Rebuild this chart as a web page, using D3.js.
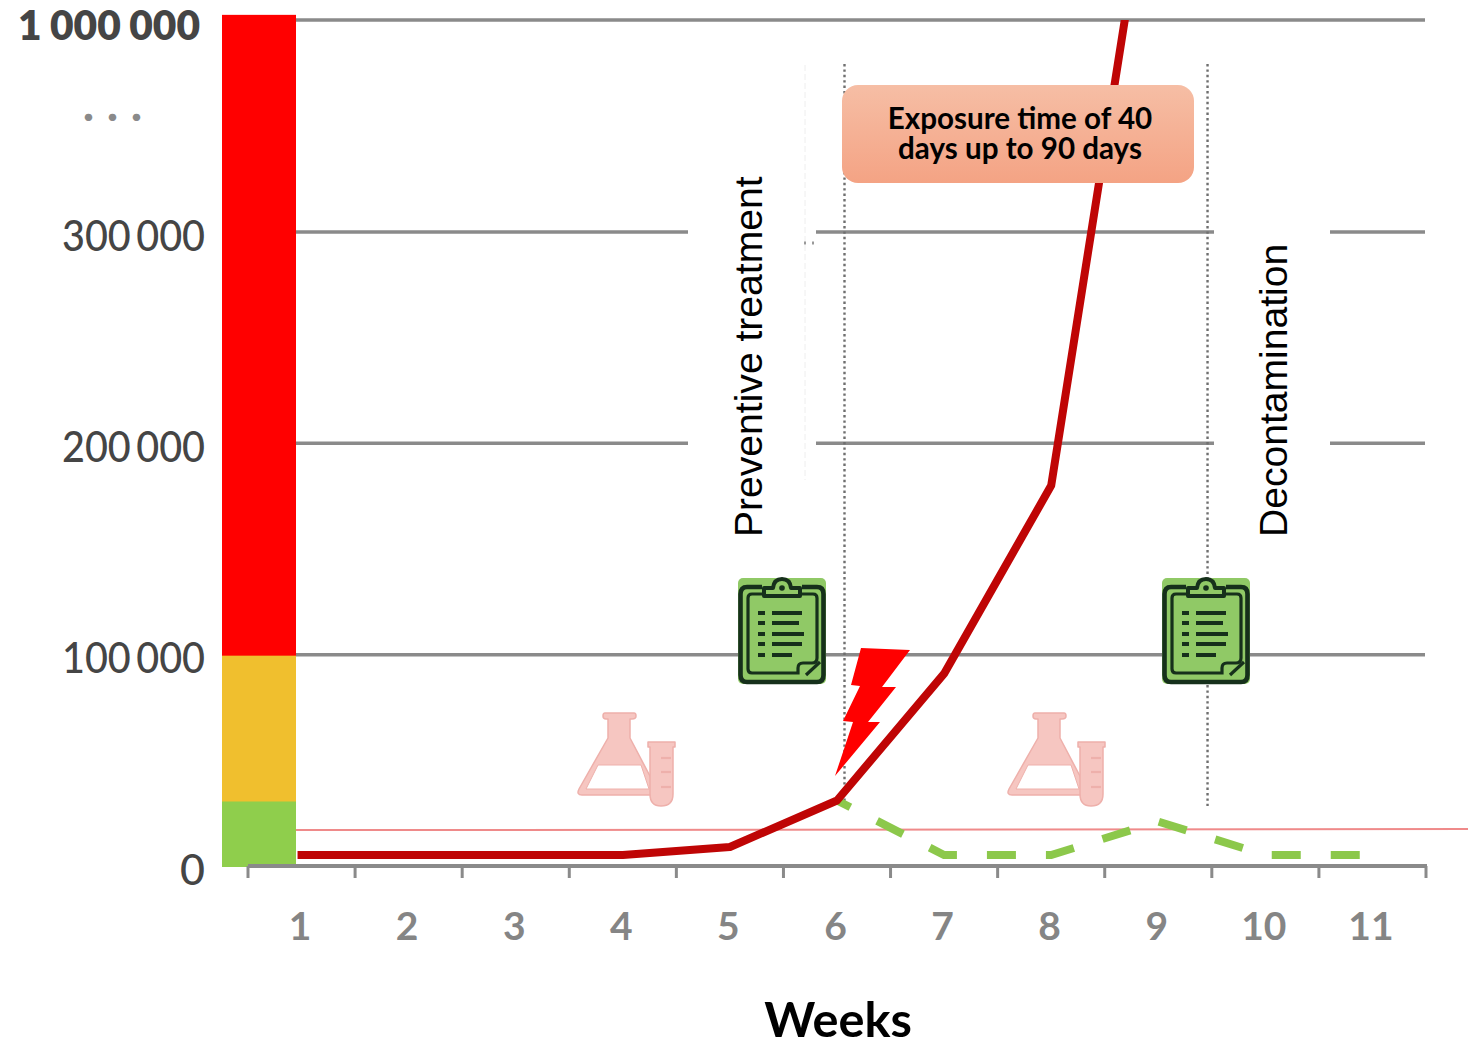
<!DOCTYPE html>
<html><head><meta charset="utf-8">
<script src="https://cdn.jsdelivr.net/npm/d3@7"></script>
<style>html,body{margin:0;padding:0;background:#fff}svg{display:block}</style>
</head><body><svg id="c" width="1473" height="1041"></svg>
<script>
const weeks = [1,2,3,4,5,6,7,8,9,10,11];
const redValues = [5200,5200,5200,5200,9000,31000,91000,180000,1700000];
const greenWeeks = [6,7,8,9,10,11];
const greenValues = [31000,5200,5200,21000,5200,5200];
const gridValues = [100000,200000,300000,1000000];
const yTicks = [0,100000,200000,300000,1000000];
const yTickLabels = ["0","100 000","200 000","300 000","1 000 000"];
const zones = [{from:0,to:31000,color:"#8fce4c"},{from:31000,to:100000,color:"#f0bf2e"},{from:100000,to:1017000,color:"#ff0000"}];
const thresholdValue = 17000;
const exposureWeeks = [6.07,9.46];
const calloutLines = ["Exposure time of 40","days up to 90 days"];

const svg = d3.select("#c");
const defs = svg.append("defs");
const grad = defs.append("linearGradient").attr("id","cg").attr("x1",0).attr("y1",0).attr("x2",0).attr("y2",1);
grad.append("stop").attr("offset",0).attr("stop-color","#f6bea5");
grad.append("stop").attr("offset",1).attr("stop-color","#f4a384");
defs.append("clipPath").attr("id","plot").append("rect").attr("x",0).attr("y",20).attr("width",1473).attr("height",1000);

const x = d3.scaleBand().domain(weeks).range([248,1426]);
const xc = w => x(w)+x.bandwidth()/2;
const xFrac = d3.scaleLinear().domain([1,11]).range([xc(1),xc(11)]);
const y = d3.scaleLinear().domain([0,300000,1000000]).range([866,232,20]);

// zones bar
svg.append("g").selectAll("rect").data(zones).join("rect")
  .attr("x",222).attr("width",74)
  .attr("y",d=>y(d.to)).attr("height",d=>y(d.from)-y(d.to)+1).attr("fill",d=>d.color);

// grid
svg.append("g").selectAll("line").data(gridValues).join("line")
  .attr("x1",296).attr("x2",1425).attr("y1",y).attr("y2",y)
  .attr("stroke","#8a8a8a").attr("stroke-width",3.5);

// white gaps behind rotated labels
svg.append("rect").attr("x",688).attr("y",215).attr("width",128).attr("height",245).attr("fill","#fff");
svg.append("rect").attr("x",1214).attr("y",215).attr("width",116).attr("height",245).attr("fill","#fff");
svg.append("line").attr("x1",805).attr("x2",805).attr("y1",65).attr("y2",480).attr("stroke","#eeeeee").attr("stroke-width",1).attr("stroke-dasharray","6 3");
svg.append("line").attr("x1",804).attr("x2",816).attr("y1",243).attr("y2",243).attr("stroke","#999").attr("stroke-width",3).attr("stroke-dasharray","2 6");

// dotted exposure lines
svg.append("g").selectAll("line").data(exposureWeeks).join("line")
  .attr("x1",d=>xFrac(d)).attr("x2",d=>xFrac(d))
  .attr("y1",64).attr("y2",(d,i)=>i?806:802)
  .attr("stroke","#6f6f6f").attr("stroke-width",2.4).attr("stroke-dasharray","2.4 3");

// threshold
svg.append("line").attr("x1",296).attr("x2",1468).attr("y1",y(thresholdValue)).attr("y2",y(thresholdValue)-1)
  .attr("stroke","#ef8a8a").attr("stroke-width",2);

// x axis
const xAxis = d3.axisBottom(x).tickSize(0).tickPadding(0);
const gx = svg.append("g").attr("transform","translate(-1.5,866)").call(xAxis);
gx.select(".domain").remove();
gx.selectAll("text").attr("y",74).attr("dy",0)
  .attr("font-family","Lato").attr("font-size",39).attr("font-weight",700).attr("fill","#858585");
svg.append("line").attr("x1",248).attr("x2",1427).attr("y1",866).attr("y2",866).attr("stroke","#8a8a8a").attr("stroke-width",4);
svg.append("g").selectAll("line").data([...weeks.map(w=>x(w)),x.range()[1]]).join("line")
  .attr("x1",d=>d).attr("x2",d=>d).attr("y1",866).attr("y2",878)
  .attr("stroke","#8a8a8a").attr("stroke-width",3);

// y labels
const labelWidth = d => d===0?null:(d===1000000?182:143);
const yAxis = d3.axisLeft(y).tickValues(yTicks).tickSize(0).tickFormat((d,i)=>yTickLabels[i]);
const gy = svg.append("g").attr("transform","translate(205,0)").call(yAxis);
gy.select(".domain").remove();
gy.selectAll("text").attr("x",0).attr("dy",(d)=>d===1000000?"0.35em":"0.42em")
  .attr("font-family","Lato").attr("fill","#454545")
  .attr("font-size",d=>d===1000000?42:43)
  .attr("font-weight",d=>d===1000000?800:500)
  .attr("word-spacing",d=>d===1000000?-1:-5)
  .attr("lengthAdjust","spacingAndGlyphs")
  .attr("textLength",labelWidth);
gy.selectAll("g.tick").filter(d=>d===1000000).attr("transform","translate(-5,25)");
svg.append("text").attr("x",119).attr("y",121).attr("text-anchor","middle").attr("font-family","Lato").attr("font-weight",900)
  .attr("font-size",46).attr("letter-spacing",13).attr("fill","#8a8a8a").text("...");

// data lines
const line = d3.line().x(d=>xc(d[0])).y(d=>y(d[1]));
svg.append("path").datum(d3.zip(greenWeeks,greenValues)).attr("d",line).attr("fill","none")
  .attr("stroke","#8cc84b").attr("stroke-width",8).attr("stroke-dasharray","29 30").attr("stroke-dashoffset",14);
svg.append("path").datum(d3.zip(weeks.slice(0,redValues.length),redValues)).attr("d",line).attr("fill","none")
  .attr("clip-path","url(#plot)").attr("stroke","#bf0505").attr("stroke-width",8).attr("stroke-linejoin","round").attr("stroke-linecap","square");

// callout
svg.append("rect").attr("x",842).attr("y",85).attr("width",352).attr("height",98).attr("rx",16).attr("fill","url(#cg)");
svg.append("g").selectAll("text").data(calloutLines).join("text")
  .attr("x",1020).attr("y",(d,i)=>129+i*30).attr("text-anchor","middle")
  .attr("font-family","Lato").attr("font-weight",700).attr("font-size",29.6).attr("fill","#000").text(d=>d);

// rotated labels
[["Preventive treatment",762],["Decontamination",1287]].forEach(([t,px])=>{
  svg.append("text").attr("transform",`translate(${px},537) rotate(-90)`)
    .attr("font-family","Liberation Sans, Arial").attr("font-size",39.1).attr("fill","#000").text(t);
});

// weeks title
svg.append("text").attr("x",838).attr("y",1037).attr("text-anchor","middle")
  .attr("font-family","Lato").attr("font-weight",700).attr("font-size",48.7).attr("fill","#000").text("Weeks");

// lightning
svg.append("polygon").attr("fill","#ff0000")
  .attr("points","861,648 910,650 882,687 896,687 868,722 880,722 835,776 853,722 843,721 860,686 851,685");

// clipboard icon
function clipboard(px,py){
  const g = svg.append("g").attr("transform",`translate(${px},${py})`);
  const dk="#16301b";
  g.append("rect").attr("x",0).attr("y",1).attr("width",88).attr("height",106).attr("rx",5).attr("fill","#90c966");
  g.append("path").attr("fill","none").attr("stroke",dk).attr("stroke-width",4.6).attr("stroke-linejoin","round")
    .attr("d","M24,10 H9 Q2.5,10 2.5,17 V98 Q2.5,105 9,105 H79 Q85.5,105 85.5,98 V17 Q85.5,10 79,10 H64");
  g.append("path").attr("fill","none").attr("stroke",dk).attr("stroke-width",3.2)
    .attr("d","M24,17 H14 Q10,17 10,21 V92 Q10,96 14,96 H60 V91 Q60,86 65,86 H74 Q79,86 79,81 V21 Q79,17 75,17 H64");
  g.append("line").attr("x1",68).attr("y1",98).attr("x2",82).attr("y2",85).attr("stroke",dk).attr("stroke-width",3.2);
  g.append("path").attr("fill","#90c966").attr("stroke",dk).attr("stroke-width",4).attr("stroke-linejoin","round")
    .attr("d","M26,19 V11 H35 Q36,2 44,2 Q52,2 53,11 H62 V19 Z");
  g.append("circle").attr("cx",44).attr("cy",11).attr("r",2.8).attr("fill",dk);
  [[36,64],[46,61],[57,66],[67,64],[78,54]].forEach(([ry,rx])=>{
    g.append("line").attr("x1",20).attr("x2",27).attr("y1",ry).attr("y2",ry).attr("stroke",dk).attr("stroke-width",4);
    g.append("line").attr("x1",34).attr("x2",rx).attr("y1",ry).attr("y2",ry).attr("stroke",dk).attr("stroke-width",4);
  });
}
clipboard(738,577);
clipboard(1162,577);

// flask icon
function flask(px,py){
  const g = svg.append("g").attr("transform",`translate(${px},${py})`);
  const f="#f6c6c1", s="#eeb0ab";
  g.append("path").attr("fill",f).attr("stroke",s).attr("stroke-width",1.5).attr("stroke-linejoin","round")
    .attr("d","M28,1 H57 Q59,1 59,4 Q59,7 55,7 H53 V26 L74,66 V83 H5 Q-1,83 2,77 L31,26 V7 H29 Q26,7 26,4 Q26,1 28,1 Z");
  g.append("path").attr("fill","#fff").attr("stroke",s).attr("stroke-width",1)
    .attr("d","M21,53 H64 L72,77 H9 Z");
  g.append("path").attr("fill",f).attr("stroke",s).attr("stroke-width",1.5).attr("stroke-linejoin","round")
    .attr("d","M71,30 H98 V35 H96 V82 Q96,94 84,94 Q73,94 73,82 V35 H71 Z");
  [46,60,75].forEach(t=>g.append("line").attr("x1",84).attr("x2",94).attr("y1",t).attr("y2",t).attr("stroke",s).attr("stroke-width",2.2));
}
flask(577,712);
flask(1007,712);
</script></body></html>
